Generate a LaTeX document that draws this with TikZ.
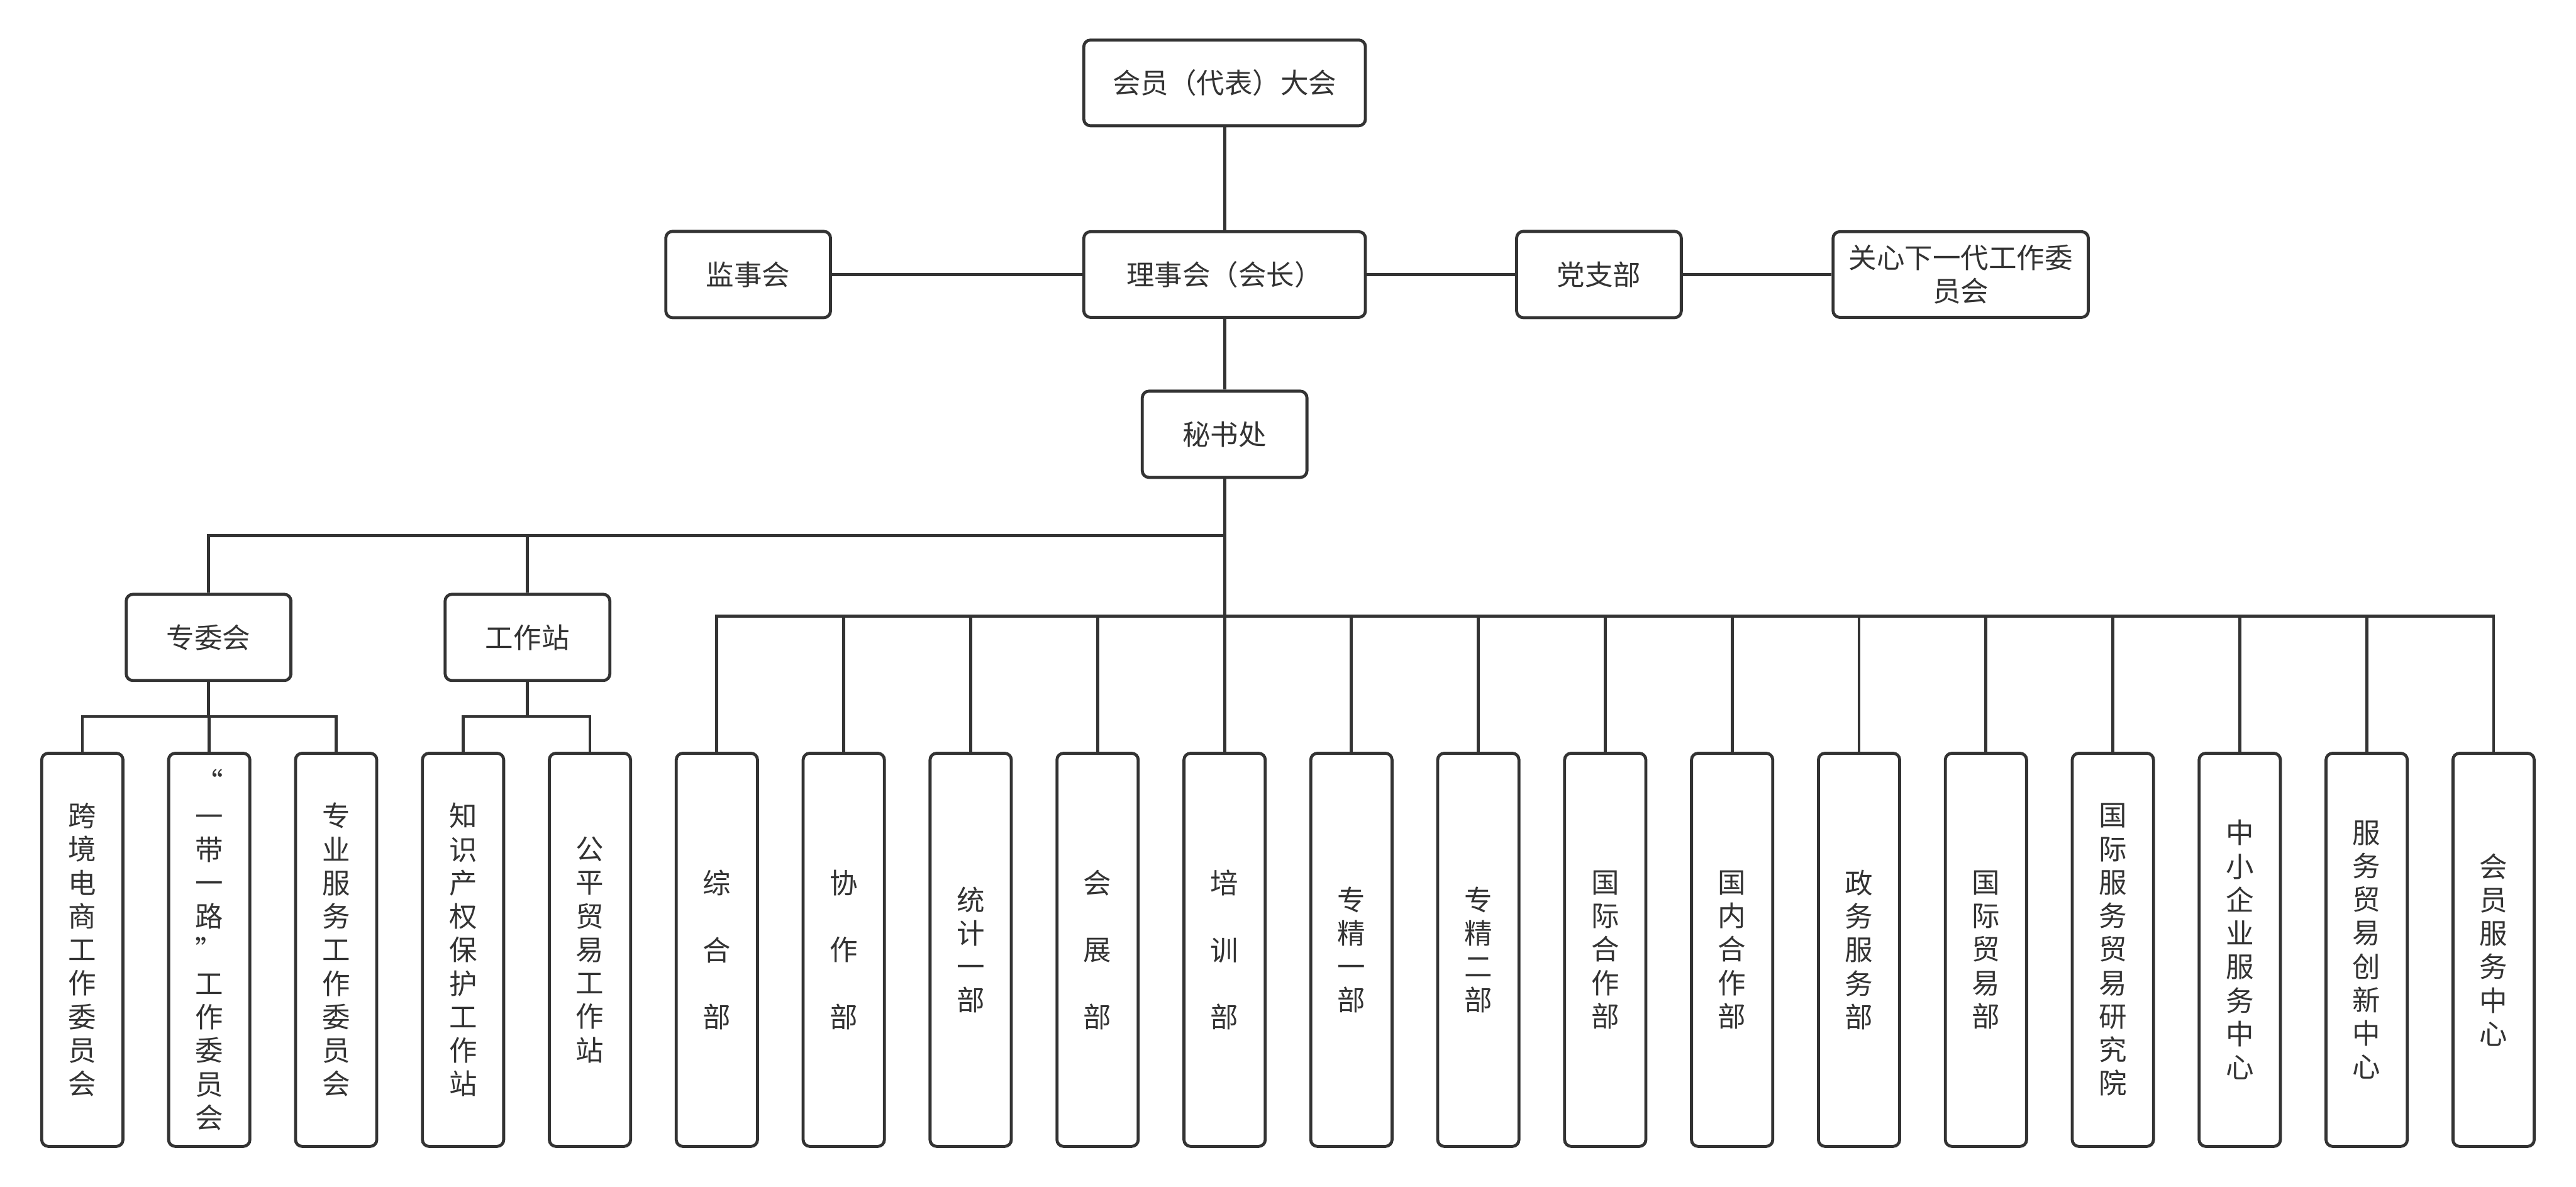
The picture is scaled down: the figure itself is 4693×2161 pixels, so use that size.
\documentclass[tikz,border=0pt]{standalone}
\usepackage{fontspec}
\setmainfont{Noto Sans CJK SC}
\definecolor{ink}{HTML}{333333}
\begin{document}
\begin{tikzpicture}[x=0.2pt,y=-0.2pt,
  box/.style={draw=ink, line width=1.1pt, rounded corners=2.4pt, fill=white, text=ink,
    inner sep=0pt, align=center, font=\fontsize{10.2pt}{12.2pt}\selectfont},
  hbox/.style={box, minimum width=60pt, minimum height=31.4pt},
  wbox/.style={box, minimum width=102.6pt, minimum height=31.2pt},
  cbox/.style={box, minimum width=93pt, minimum height=31.2pt},
  vbox/.style={box, minimum width=29.6pt, minimum height=143.2pt},
  link/.style={draw=ink, line width=1.1pt}]
\useasboundingbox[fill=white] (0,0) rectangle (4693,2161);

% top levels
\node[wbox] (agm) at (2231,151) {会员（代表）大会};
\node[wbox] (board) at (2231,500) {理事会（会长）};
\node[hbox] (sup) at (1363,500) {监事会};
\node[hbox] (party) at (2913,500) {党支部};
\node[cbox] (care) at (3572,500) {关心下一代工作委\\员会};
\node[hbox] (sec) at (2231,791) {秘书处};
\node[hbox] (zwh) at (380,1161) {专委会};
\node[hbox] (gzz) at (961,1161) {工作站};

% vertical boxes
\def\vy{1730}
\node[vbox] (v1) at (150.0,\vy) {跨\\境\\电\\商\\工\\作\\委\\员\\会};
\node[vbox] (v2) at (381.2,\vy) {“\\一\\带\\一\\路\\”\\工\\作\\委\\员\\会};
\node[vbox] (v3) at (612.4,\vy) {专\\业\\服\\务\\工\\作\\委\\员\\会};
\node[vbox] (v4) at (843.6,\vy) {知\\识\\产\\权\\保\\护\\工\\作\\站};
\node[vbox] (v5) at (1074.8,\vy) {公\\平\\贸\\易\\工\\作\\站};
\node[vbox] (v6) at (1306.0,\vy) {综\\[12.2pt]合\\[12.2pt]部};
\node[vbox] (v7) at (1537.2,\vy) {协\\[12.2pt]作\\[12.2pt]部};
\node[vbox] (v8) at (1768.4,\vy) {统\\计\\一\\部};
\node[vbox] (v9) at (1999.6,\vy) {会\\[12.2pt]展\\[12.2pt]部};
\node[vbox] (v10) at (2231.0,\vy) {培\\[12.2pt]训\\[12.2pt]部};
\node[vbox] (v11) at (2462.0,\vy) {专\\精\\一\\部};
\node[vbox] (v12) at (2693.2,\vy) {专\\精\\二\\部};
\node[vbox] (v13) at (2924.4,\vy) {国\\际\\合\\作\\部};
\node[vbox] (v14) at (3155.6,\vy) {国\\内\\合\\作\\部};
\node[vbox] (v15) at (3386.8,\vy) {政\\务\\服\\务\\部};
\node[vbox] (v16) at (3618.0,\vy) {国\\际\\贸\\易\\部};
\node[vbox] (v17) at (3849.2,\vy) {国\\际\\服\\务\\贸\\易\\研\\究\\院};
\node[vbox] (v18) at (4080.4,\vy) {中\\小\\企\\业\\服\\务\\中\\心};
\node[vbox] (v19) at (4311.6,\vy) {服\\务\\贸\\易\\创\\新\\中\\心};
\node[vbox] (v20) at (4542.8,\vy) {会\\员\\服\\务\\中\\心};

% junctions
\coordinate (j1) at (2231,976);
\coordinate (j2) at (2231,1122);
\coordinate (z1) at (380,1305);
\coordinate (g1) at (961,1305);

% connectors
\draw[link] (agm.south) -- (board.north);
\draw[link] (sup.east) -- (board.west);
\draw[link] (board.east) -- (party.west);
\draw[link] (party.east) -- (care.west);
\draw[link] (board.south) -- (sec.north);
\draw[link] (sec.south) -- (j2);
\draw[link] (zwh.north) |- (j1);
\draw[link] (gzz.north) -- (gzz.north |- j1);
\draw[link] (zwh.south) -- (z1);
\draw[link] (v1.north) |- (z1) -| (v3.north);
\draw[link] (v2.north) -- (v2.north |- z1);
\draw[link] (gzz.south) -- (g1);
\draw[link] (v4.north) |- (g1) -| (v5.north);
\draw[link] (v6.north) |- (j2) -| (v20.north);
\foreach \i in {7,...,19} {
  \draw[link] (v\i.north) -- (v\i.north |- j2);
}
\end{tikzpicture}
\end{document}
